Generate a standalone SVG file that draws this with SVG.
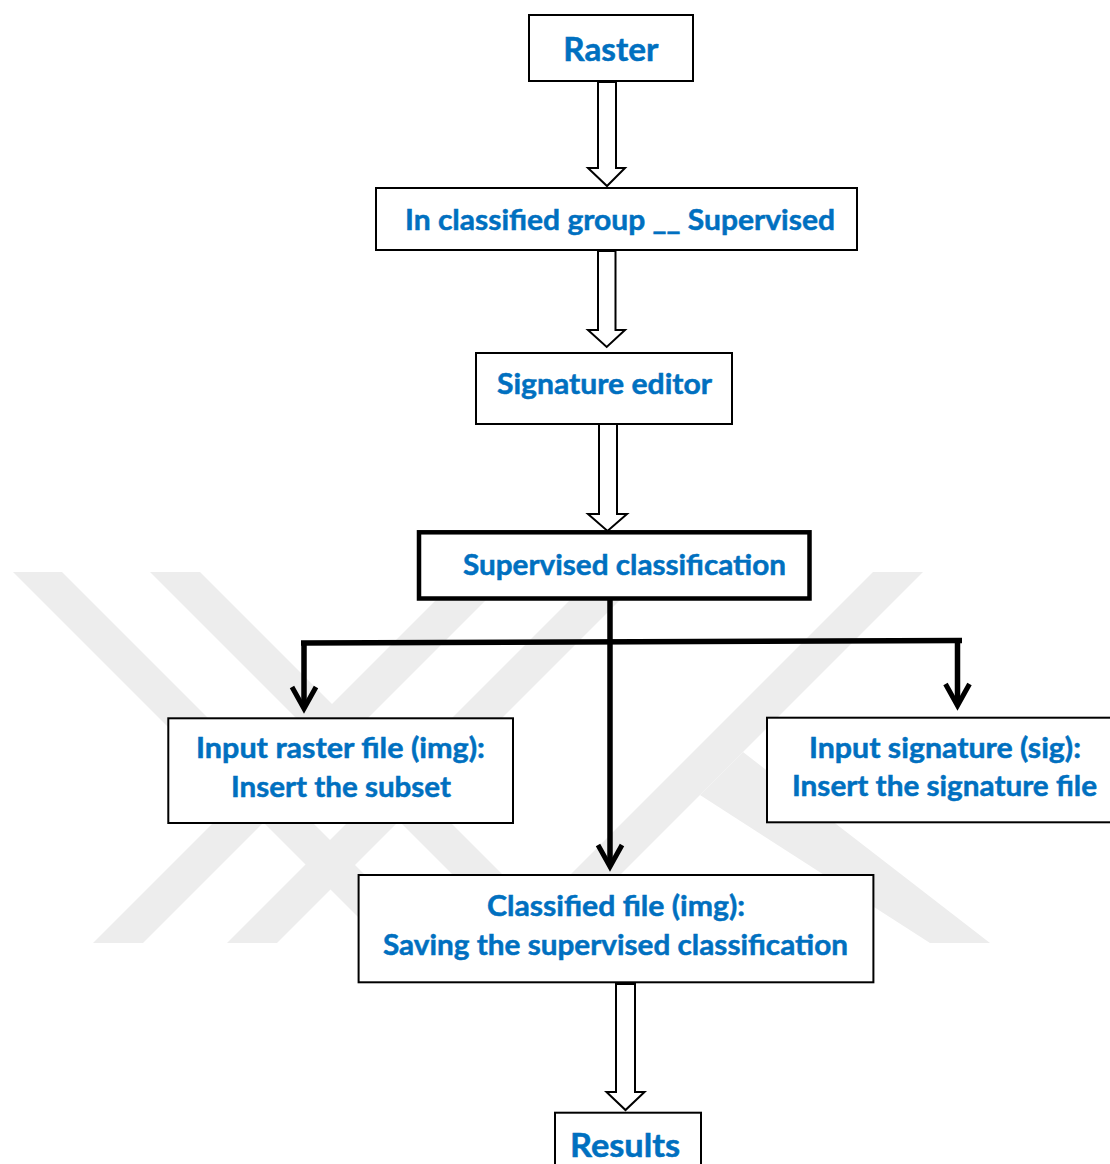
<svg xmlns="http://www.w3.org/2000/svg" width="1110" height="1164" viewBox="0 0 1110 1164">
<defs>
<style>
.box{fill:#fff;stroke:#000;stroke-width:2}
.thick{fill:#fff;stroke:#000;stroke-width:4.5}
.blk{fill:#fff;stroke:#000;stroke-width:2;stroke-linejoin:miter}
.ln{fill:none;stroke:#000;stroke-width:5.5}
.hd{fill:none;stroke:#000;stroke-width:5;stroke-linejoin:miter;stroke-linecap:butt}
.t{font-family:Lato,'Open Sans','Liberation Sans',sans-serif;font-weight:700;font-size:29px;fill:#0070C0;stroke:#0070C0;stroke-width:0.5;text-anchor:middle}
.big{font-size:32px}
.wm{fill:#ededed}
</style>
</defs>
<rect width="1110" height="1164" fill="#fff"/>
<g id="watermark">
<polygon class="wm" points="13,572 62,572 433,943 384,943"/>
<polygon class="wm" points="150,572 200,572 571,943 521,943"/>
<polygon class="wm" points="93,943 143,943 514,572 464,572"/>
<polygon class="wm" points="227,943 277,943 648,572 598,572"/>
<polygon class="wm" points="873,572 923,572 552,943 502,943"/>
<polygon class="wm" points="743,752 990,943 930,943 700,795"/>
</g>
<g id="connectors">
<polygon class="blk" points="598,82 616,82 616,168 625,168 607,186 588,168 598,168"/>
<polygon class="blk" points="598,251 615.5,251 615.5,330 625,330 606.7,347 588,330 598,330"/>
<polygon class="blk" points="599,424 617,424 617,514 627,514 607.5,531 588,514 599,514"/>
<polygon class="blk" points="616,984 635,984 635,1092 644.5,1092 625.5,1110 606.5,1092 616,1092"/>
<path class="ln" d="M610,600 V864"/>
<polyline class="hd" points="598,845 610,866.5 622,845"/>
<path class="ln" d="M301,643 L962,640.5"/>
<path class="ln" d="M304,643 V705"/>
<polyline class="hd" points="292,687 304,708.5 316,687"/>
<path class="ln" d="M957.5,640.5 V702"/>
<polyline class="hd" points="945.5,684 957.5,705.5 969.5,684"/>
</g>
<g id="raster">
<rect class="box" x="529" y="15" width="164" height="66"/>
<text class="t big" x="610.8" y="61" textLength="95" lengthAdjust="spacingAndGlyphs">Raster</text>
</g>
<g id="classified-group">
<rect class="box" x="376" y="188" width="481" height="62"/>
<text class="t" x="620" y="230" textLength="430" lengthAdjust="spacingAndGlyphs">In classified group __ Supervised</text>
</g>
<g id="signature-editor">
<rect class="box" x="476" y="353" width="256" height="71"/>
<text class="t" x="604.5" y="394" textLength="215" lengthAdjust="spacingAndGlyphs">Signature editor</text>
</g>
<g id="supervised-classification">
<rect class="thick" x="419" y="532.3" width="390.5" height="66.2"/>
<text class="t" x="624.5" y="575" textLength="323" lengthAdjust="spacingAndGlyphs">Supervised classification</text>
</g>
<g id="input-raster">
<rect class="box" x="168.3" y="718.3" width="344.7" height="104.7"/>
<text class="t" x="340.5" y="758" textLength="289" lengthAdjust="spacingAndGlyphs">Input raster file (img):</text>
<text class="t" x="341" y="796.5" textLength="220" lengthAdjust="spacingAndGlyphs">Insert the subset</text>
</g>
<g id="input-signature">
<rect class="box" x="767" y="717.7" width="350" height="104.6"/>
<text class="t" x="945" y="758" textLength="272" lengthAdjust="spacingAndGlyphs">Input signature (sig):</text>
<text class="t" x="944.5" y="795.5" textLength="305" lengthAdjust="spacingAndGlyphs">Insert the signature file</text>
</g>
<g id="classified-file">
<rect class="box" x="358.6" y="875" width="514.8" height="107.3"/>
<text class="t" x="616" y="916" textLength="258" lengthAdjust="spacingAndGlyphs">Classified file (img):</text>
<text class="t" x="615.5" y="955" textLength="465" lengthAdjust="spacingAndGlyphs">Saving the supervised classification</text>
</g>
<g id="results">
<rect class="box" x="555" y="1112.7" width="146" height="60"/>
<text class="t big" x="625" y="1157" textLength="110" lengthAdjust="spacingAndGlyphs">Results</text>
</g>
</svg>
